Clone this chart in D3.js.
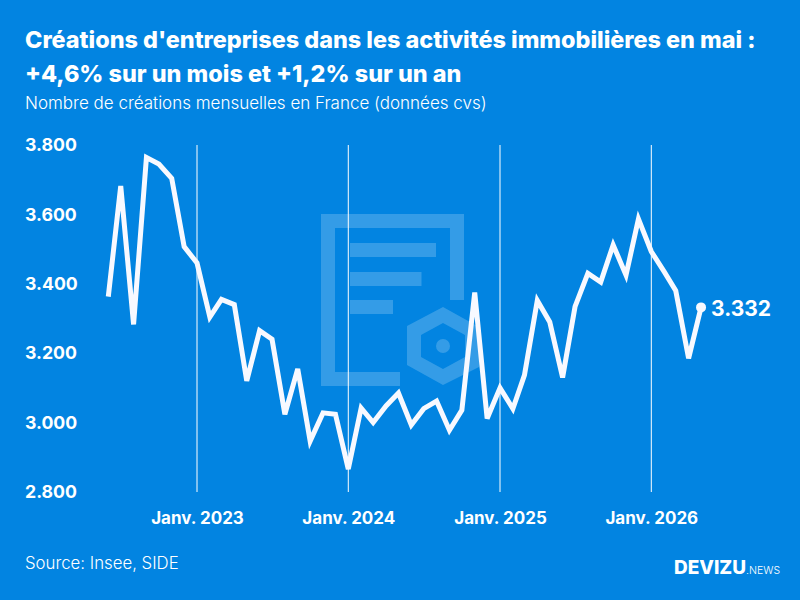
<!DOCTYPE html>
<html lang="fr">
<head>
<meta charset="utf-8">
<title>Créations d'entreprises</title>
<script src="https://cdn.jsdelivr.net/npm/d3@7/dist/d3.min.js"></script>
<style>
html,body{margin:0;padding:0;background:#0284e1;}
svg{display:block;}
text{font-family:Inter,Roboto,sans-serif;fill:#fff;}
</style>
</head>
<body>
<svg id="chart" width="800" height="600"></svg>
<script>
// Monthly business creations, seasonally adjusted, June 2022 to May 2026
const firstMonth = [2022, 5];
const creations = [
  3363, 3682, 3283, 3764, 3745, 3704, 3507,
  3460, 3304, 3355, 3340, 3120, 3265, 3240, 3024, 3155, 2947, 3028, 3024,
  2866, 3042, 3000, 3048, 3085, 2993, 3040, 3062, 2978, 3036, 3375, 3012,
  3100, 3040, 3137, 3352, 3290, 3130, 3334, 3430, 3405, 3512, 3425, 3587,
  3493, 3435, 3380, 3185, 3332
];
const yTicks = [2800, 3000, 3200, 3400, 3600, 3800];
const xTickYears = [2023, 2024, 2025, 2026];
const titleLines = [
  "Créations d'entreprises dans les activités immobilières en mai :",
  "+4,6% sur un mois et +1,2% sur un an"
];
const subtitle = "Nombre de créations mensuelles en France (données cvs)";
const source = "Source: Insee, SIDE";

const dates = creations.map((_, i) => new Date(firstMonth[0], firstMonth[1] + i, 1));
const frLocale = d3.formatLocale({decimal: ",", thousands: ".", grouping: [3], currency: ["", " €"]});
const fmt = frLocale.format(",d");

const svg = d3.select("#chart");
svg.append("rect").attr("width", 800).attr("height", 600).attr("fill", "#0284e1");

const x = d3.scaleTime()
  .domain([new Date(2023, 0, 1), new Date(2026, 0, 1)])
  .range([197, 651.3]);
const y = d3.scaleLinear().domain([2800, 3800]).range([492, 145]);

// Decorative document-and-hexagon emblem behind the curve
const emblem = svg.append("g").attr("fill", "#fff").attr("fill-opacity", 0.2);
emblem.append("path").attr("fill-rule", "evenodd").attr("d",
  "M321,214H464V300H450V228H335V372H400V386H321Z");
emblem.append("rect").attr("x", 350).attr("y", 243).attr("width", 86).attr("height", 14);
emblem.append("rect").attr("x", 350).attr("y", 272).attr("width", 71.5).attr("height", 14);
emblem.append("rect").attr("x", 350).attr("y", 300).attr("width", 43).attr("height", 14);
emblem.append("path").attr("fill-rule", "evenodd").attr("d",
  "M443,307L479,327V367L443,385L407,365V326ZM443,323L421,335V357L443,369L465,357V335Z");
emblem.append("circle").attr("cx", 443).attr("cy", 346).attr("r", 7);

// Vertical January markers
svg.append("g").selectAll("line")
  .data(xTickYears)
  .join("line")
  .attr("x1", d => x(new Date(d, 0, 1)))
  .attr("x2", d => x(new Date(d, 0, 1)))
  .attr("y1", y(3800))
  .attr("y2", y(2800))
  .attr("stroke", "#fff")
  .attr("stroke-width", 1);

// Axes: labels only, no domain or tick marks
const yAxis = d3.axisLeft(y).tickValues(yTicks).tickSize(0).tickFormat(fmt);
const yG = svg.append("g").attr("transform", "translate(25,0)").call(yAxis);
yG.select(".domain").remove();
yG.selectAll("text")
  .attr("x", 0).attr("text-anchor", "start")
  .style("font-size", "17.7px").style("font-weight", 700).attr("fill", "#fff");

const xAxis = d3.axisBottom(x)
  .tickValues(xTickYears.map(d => new Date(d, 0, 1)))
  .tickSize(0)
  .tickFormat(d => "Janv. " + d.getFullYear());
const xG = svg.append("g").attr("transform", "translate(0,518)").call(xAxis);
xG.select(".domain").remove();
xG.selectAll("text")
  .attr("y", 0).attr("dy", "0.35em")
  .style("font-size", "17px").style("font-weight", 700).attr("fill", "#fff");

// Series curve
const line = d3.line().x((d, i) => x(dates[i])).y(d => y(d));
svg.append("path")
  .datum(creations)
  .attr("d", line)
  .attr("fill", "none")
  .attr("stroke", "#f8f9ff")
  .attr("stroke-width", 5)
  .attr("stroke-linejoin", "miter");

// Latest value marker and label
const lastI = creations.length - 1;
svg.append("circle")
  .attr("cx", x(dates[lastI]))
  .attr("cy", y(creations[lastI]))
  .attr("r", 5)
  .attr("fill", "#f8f9ff");
svg.append("text")
  .attr("x", x(dates[lastI]) + 10)
  .attr("y", y(creations[lastI]) + 1)
  .attr("dy", "0.37em")
  .style("font-size", "21px").style("font-weight", 700)
  .text(fmt(creations[lastI]));

// Headings
svg.append("g").selectAll("text")
  .data(titleLines)
  .join("text")
  .attr("x", 25)
  .attr("y", (d, i) => 48 + i * 34)
  .style("font-size", "23.4px").style("font-weight", 800)
  .text(d => d);
svg.append("text").attr("x", 25).attr("y", 109)
  .style("font-size", "17px").style("font-weight", 300).text(subtitle);
svg.append("text").attr("x", 25).attr("y", 569)
  .style("font-size", "16.8px").style("font-weight", 300).text(source);

// Publisher wordmark
const logo = svg.append("text").attr("x", 674).attr("y", 574);
logo.append("tspan").style("font-size", "19px").style("font-weight", 800).text("DEVIZU");
logo.append("tspan").style("font-size", "10.5px").style("font-weight", 300).text(".NEWS");
</script>
</body>
</html>
